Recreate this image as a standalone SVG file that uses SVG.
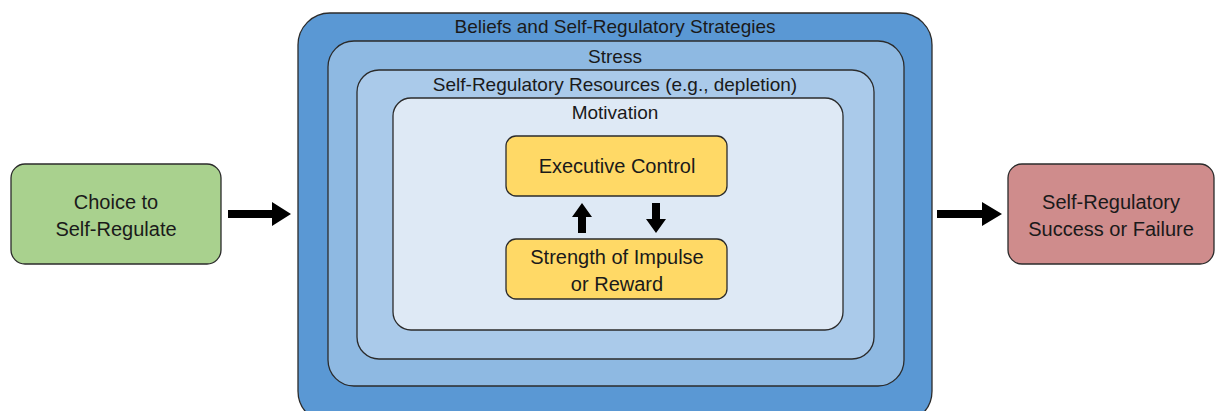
<svg xmlns="http://www.w3.org/2000/svg" width="1218" height="411" viewBox="0 0 1218 411">
<defs>
<style>
text{font-family:"Liberation Sans","DejaVu Sans",sans-serif;fill:#1a1a1a;text-anchor:middle}
.t{font-size:19px}
.n{font-size:20px}
.box{stroke:#2b2b2b;stroke-width:1.3}
.arr{fill:#000}
</style>
</defs>
<rect width="1218" height="411" fill="#fff"/>
<g id="beliefs"><rect class="box" x="298" y="13" width="634" height="410" rx="32" fill="#5A98D4"/><text class="t" x="615" y="33">Beliefs and Self-Regulatory Strategies</text></g>
<g id="stress"><rect class="box" x="328" y="41" width="576" height="345" rx="26" fill="#8EB9E2"/><text class="t" x="615" y="63">Stress</text></g>
<g id="resources"><rect class="box" x="357" y="70" width="517" height="289" rx="22" fill="#AACAEA"/><text class="t" x="615" y="91">Self-Regulatory Resources (e.g., depletion)</text></g>
<g id="motivation"><rect class="box" x="393" y="98" width="450" height="232" rx="18" fill="#DEE9F5"/><text class="t" x="615" y="119">Motivation</text></g>
<g id="executive"><rect class="box" x="506" y="136" width="221" height="60" rx="10" fill="#FFD966"/><text class="n" x="617" y="173">Executive Control</text></g>
<g id="strength"><rect class="box" x="506" y="239" width="221" height="60" rx="10" fill="#FFD966"/><text class="n" x="617" y="264">Strength of Impulse</text><text class="n" x="617" y="291">or Reward</text></g>
<g id="choice"><rect class="box" x="11" y="164" width="210" height="100" rx="14" fill="#A9D18E"/><text class="n" x="116" y="209">Choice to</text><text class="n" x="116" y="236">Self-Regulate</text></g>
<g id="outcome"><rect class="box" x="1008" y="164" width="206" height="100" rx="14" fill="#CF8C8C"/><text class="n" x="1111" y="209">Self-Regulatory</text><text class="n" x="1111" y="236">Success or Failure</text></g>
<g id="connectors">
<polygon class="arr" points="228,210 272,210 272,202 291,214 272,226 272,218 228,218"/>
<polygon class="arr" points="937,210 982,210 982,202 1002,214 982,226 982,218 937,218"/>
<polygon class="arr" points="578,233 578,217 572,217 582,203 592,217 586,217 586,233"/>
<polygon class="arr" points="652,203 652,219 646,219 656,233 666,219 660,219 660,203"/>
</g>
</svg>
